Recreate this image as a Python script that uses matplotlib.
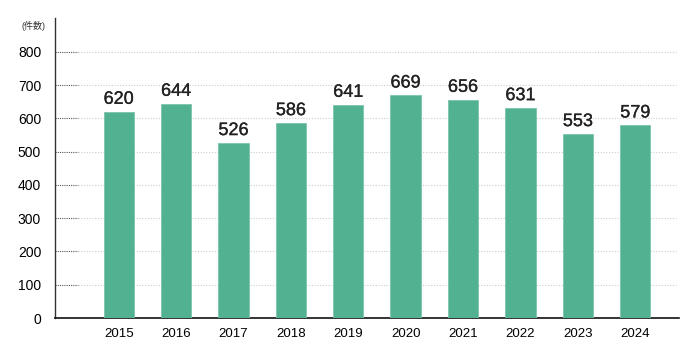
import matplotlib.pyplot as plt
import matplotlib.patheffects as pe

plt.rcParams['font.family'] = ['Liberation Sans', 'Noto Sans CJK JP', 'DejaVu Sans']

# data
years = ['2015', '2016', '2017', '2018', '2019', '2020', '2021', '2022', '2023', '2024']
counts = [620, 644, 526, 586, 641, 669, 656, 631, 553, 579]
yticks = [0, 100, 200, 300, 400, 500, 600, 700, 800]

fig = plt.figure(figsize=(7, 3.5), dpi=100)
ax = fig.add_axes([0.0786, 0.0914, 0.892, 0.8572])

x = list(range(len(years)))
ax.bar(x, counts, width=0.53, color='#52b191', edgecolor='#7cc5ab', linewidth=0.6, zorder=3)

# value labels, slightly heavier than regular
for xi, v in zip(x, counts):
    ax.text(xi, v + 12, str(v), ha='center', va='bottom', fontsize=13, color='#222222',
            path_effects=[pe.withStroke(linewidth=0.2, foreground='#222222')])

# dotted gridlines: darker short part next to the axis, light gray beyond
tr = ax.get_yaxis_transform()
for t in yticks[1:]:
    ax.plot([0, 0.037], [t, t], transform=tr, color='#555555', lw=0.8, ls=(0, (1, 1)), zorder=1)
    ax.plot([0.037, 0.995], [t, t], transform=tr, color='#cccccc', lw=0.8, ls=(0, (1, 1.5)), zorder=1)

ax.set_xlim(-1.11, 9.77)
ax.set_ylim(0, 902)
ax.set_yticks(yticks)
ax.set_xticks(x)
ax.set_xticklabels(years, fontsize=9.5)
ax.tick_params(axis='y', labelsize=10, length=0, pad=10)
ax.tick_params(axis='x', length=0, pad=7)

for s in ['top', 'right']:
    ax.spines[s].set_visible(False)
ax.spines['left'].set_color('#333333')
ax.spines['bottom'].set_color('#111111')
ax.spines['left'].set_linewidth(1)
ax.spines['bottom'].set_linewidth(1.2)

fig.text(0.048, 0.925, '(件数)', fontsize=6.5, ha='center', va='center', color='#333333')

fig.savefig('out.png')
